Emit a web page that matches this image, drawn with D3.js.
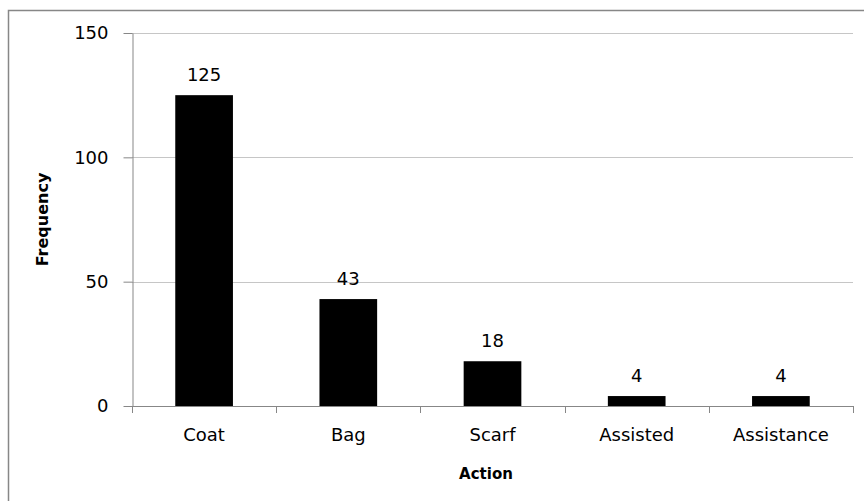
<!DOCTYPE html>
<html>
<head>
<meta charset="utf-8">
<script src="https://cdn.jsdelivr.net/npm/d3@7/dist/d3.min.js"></script>
<style>
  html, body { margin: 0; padding: 0; background: #fff; }
  svg { display: block; }
  text { font-family: "DejaVu Sans", Verdana, sans-serif; fill: #000; }
</style>
</head>
<body>
<svg id="chart" width="864" height="501"></svg>
<script>
const categories = ["Coat", "Bag", "Scarf", "Assisted", "Assistance"];
const frequency = [125, 43, 18, 4, 4];
const yTicks = [0, 50, 100, 150];
const xTitle = "Action";
const yTitle = "Frequency";

const svg = d3.select("#chart");
const W = 864, H = 501;
const plot = { left: 132, right: 853, top: 33, bottom: 406 };

// outer chart border (extends beyond the visible area on right/bottom)
svg.append("rect")
  .attr("x", 8.5).attr("y", 10.5)
  .attr("width", W + 20).attr("height", H + 20)
  .attr("fill", "none").attr("stroke", "#878787").attr("stroke-width", 1.5);

const x = d3.scaleBand().domain(categories)
  .range([plot.left, plot.right]).paddingInner(0.6).paddingOuter(0.3);
const xEdge = d3.scaleBand().domain(categories).range([plot.left, plot.right]).padding(0);
const y = d3.scaleLinear().domain([0, 150]).range([plot.bottom, plot.top]);

// gridlines
svg.append("g").selectAll("line").data(yTicks.filter(d => d > 0)).join("line")
  .attr("x1", plot.left).attr("x2", plot.right)
  .attr("y1", d => Math.round(y(d)) + 0.5).attr("y2", d => Math.round(y(d)) + 0.5)
  .attr("stroke", "#c6c6c6").attr("stroke-width", 1);

// y axis
const yAxis = svg.append("g")
  .attr("transform", `translate(${plot.left + 0.5},0)`)
  .call(d3.axisLeft(y).tickValues(yTicks).tickSize(9).tickSizeOuter(0).tickPadding(15));
yAxis.select(".domain").attr("stroke", "#878787");
yAxis.selectAll(".tick line").attr("stroke", "#878787");
yAxis.selectAll(".tick text").attr("font-size", 18).attr("fill", "#000")
  .attr("font-family", "DejaVu Sans");

// bars
svg.append("g").selectAll("rect").data(categories).join("rect")
  .attr("x", d => x(d))
  .attr("width", x.bandwidth())
  .attr("y", (d, i) => y(frequency[i]))
  .attr("height", (d, i) => y(0) - y(frequency[i]))
  .attr("fill", "#000");

// x axis line and boundary ticks
const edges = categories.map(c => xEdge(c)).concat([plot.right]);
svg.append("line")
  .attr("x1", plot.left).attr("x2", plot.right)
  .attr("y1", plot.bottom + 0.5).attr("y2", plot.bottom + 0.5)
  .attr("stroke", "#878787");
svg.append("g").selectAll("line").data(edges).join("line")
  .attr("x1", d => Math.round(d) + 0.5).attr("x2", d => Math.round(d) + 0.5)
  .attr("y1", plot.bottom).attr("y2", plot.bottom + 7)
  .attr("stroke", "#878787");

// x tick labels
svg.append("g").selectAll("text").data(categories).join("text")
  .attr("x", d => x(d) + x.bandwidth() / 2)
  .attr("y", 441)
  .attr("text-anchor", "middle")
  .attr("font-size", 18)
  .text(d => d);

// value labels
svg.append("g").selectAll("text").data(categories).join("text")
  .attr("x", d => x(d) + x.bandwidth() / 2)
  .attr("y", (d, i) => y(frequency[i]) - 14)
  .attr("text-anchor", "middle")
  .attr("font-size", 18)
  .text((d, i) => frequency[i]);

// axis titles
svg.append("text")
  .attr("x", 486)
  .attr("y", 479)
  .attr("text-anchor", "middle")
  .attr("font-size", 15).attr("font-weight", "bold")
  .text(xTitle);

svg.append("text")
  .attr("transform", `translate(48,${(plot.top + plot.bottom) / 2}) rotate(-90)`)
  .attr("text-anchor", "middle")
  .attr("font-size", 16).attr("font-weight", "bold")
  .text(yTitle);
</script>
</body>
</html>
